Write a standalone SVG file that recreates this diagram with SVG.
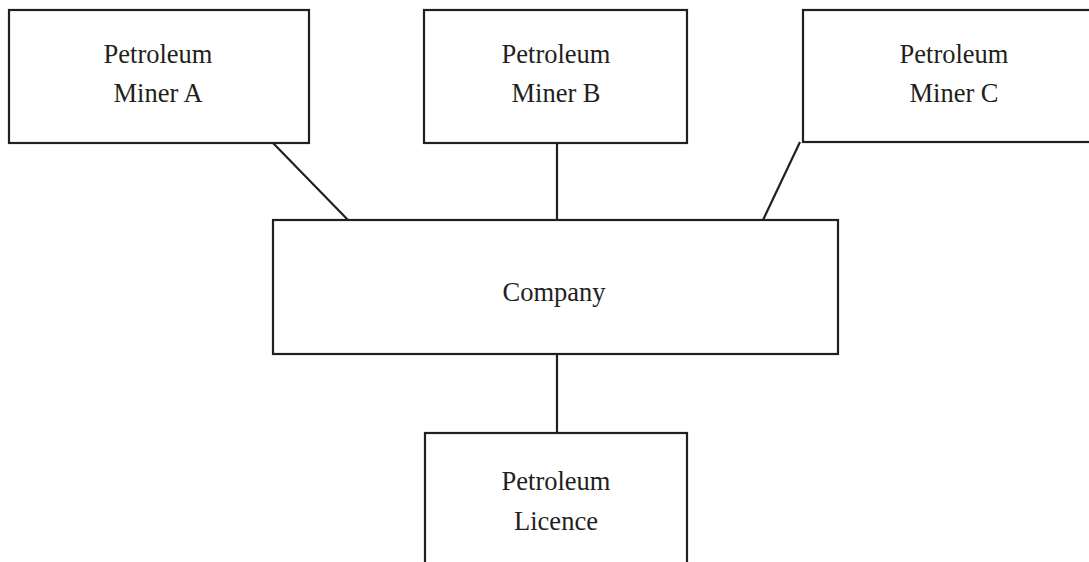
<svg xmlns="http://www.w3.org/2000/svg" width="1089" height="562" viewBox="0 0 1089 562">
<style>
.box{fill:#fff;stroke:#231f20;stroke-width:2.2}
.c{stroke:#231f20;stroke-width:2.2;fill:none}
text{font-family:"Liberation Serif","Times New Roman",serif;font-size:26.5px;fill:#231f20;text-anchor:middle}
</style>
<rect width="1089" height="562" fill="#fff"/>
<g id="connectors">
<line class="c" x1="273" y1="143" x2="348" y2="220"/>
<line class="c" x1="557" y1="143" x2="557" y2="220"/>
<line class="c" x1="800" y1="142" x2="763" y2="220"/>
<line class="c" x1="557" y1="354" x2="557" y2="433"/>
</g>
<g id="minerA">
<rect class="box" x="9" y="10" width="300" height="133"/>
<text x="158" y="63">Petroleum</text>
<text x="158" y="102">Miner A</text>
</g>
<g id="minerB">
<rect class="box" x="424" y="10" width="263" height="133"/>
<text x="556" y="63">Petroleum</text>
<text x="556" y="102">Miner B</text>
</g>
<g id="minerC">
<rect class="box" x="803" y="10" width="300" height="132"/>
<text x="954" y="63">Petroleum</text>
<text x="954" y="102">Miner C</text>
</g>
<g id="company">
<rect class="box" x="273" y="220" width="565" height="134"/>
<text x="554" y="301">Company</text>
</g>
<g id="licence">
<rect class="box" x="425" y="433" width="262" height="140"/>
<text x="556" y="490">Petroleum</text>
<text x="556" y="530">Licence</text>
</g>
</svg>
